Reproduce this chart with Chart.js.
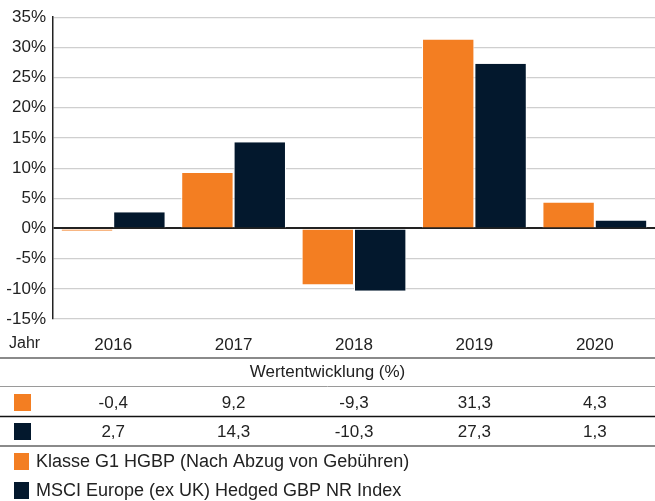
<!DOCTYPE html>
<html>
<head>
<meta charset="utf-8">
<script src="https://cdn.jsdelivr.net/npm/chart.js@4/dist/chart.umd.min.js"></script>
<style>
  html, body { margin: 0; padding: 0; background: #fff; }
  #wrap { width: 655px; height: 501px; }
</style>
</head>
<body>
<div id="wrap"><canvas id="perfChart" width="655" height="501"></canvas></div>
<script>
const years = ["2016", "2017", "2018", "2019", "2020"];
const fundValues = [-0.4, 9.2, -9.3, 31.3, 4.3];
const indexValues = [2.7, 14.3, -10.3, 27.3, 1.3];
const fundLabel = "Klasse G1 HGBP (Nach Abzug von Gebühren)";
const indexLabel = "MSCI Europe (ex UK) Hedged GBP NR Index";
const yTicks = [-15, -10, -5, 0, 5, 10, 15, 20, 25, 30, 35];

const orange = "#f37e22";
const navy = "#03182d";
const font = "'Liberation Sans', Arial, Helvetica, sans-serif";
const textColor = "#222";

function fmt(v) {
  return v.toFixed(1).replace(".", ",");
}

// table + legend under the chart, columns follow the x scale
const tablePlugin = {
  id: "tablePlugin",
  afterDraw(chart) {
    const ctx = chart.ctx;
    const x = chart.scales.x;
    const w = chart.width;

    ctx.save();
    ctx.fillStyle = textColor;
    ctx.textBaseline = "middle";

    ctx.font = "16px " + font;
    ctx.textAlign = "left";
    ctx.fillText("Jahr", 9, 344);

    function hline(y, color, width) {
      ctx.strokeStyle = color;
      ctx.lineWidth = width;
      ctx.beginPath();
      ctx.moveTo(0, y);
      ctx.lineTo(w, y);
      ctx.stroke();
    }

    hline(358, "#8a8a8a", 2);
    ctx.font = "17px " + font;
    ctx.textAlign = "center";
    ctx.fillStyle = textColor;
    ctx.fillText("Wertentwicklung (%)", w / 2, 372);
    hline(386.5, "#9a9a9a", 1);

    const rows = [
      { color: orange, values: fundValues, y: 402 },
      { color: navy, values: indexValues, y: 431 }
    ];
    rows.forEach(row => {
      ctx.fillStyle = row.color;
      ctx.fillRect(14, row.y - 8, 17, 17);
      ctx.fillStyle = textColor;
      ctx.font = "17px " + font;
      ctx.textAlign = "center";
      row.values.forEach((v, i) => {
        ctx.fillText(fmt(v), x.getPixelForValue(i), row.y + 1);
      });
    });
    hline(416.5, "#111", 1.5);
    hline(446, "#8a8a8a", 2);

    const legend = [
      { color: orange, text: fundLabel, y: 461 },
      { color: navy, text: indexLabel, y: 490 }
    ];
    legend.forEach(item => {
      ctx.fillStyle = item.color;
      ctx.fillRect(14, item.y - 8, 15, 17);
      ctx.fillStyle = textColor;
      ctx.font = "18px " + font;
      ctx.textAlign = "left";
      ctx.fillText(item.text, 36, item.y + 1);
    });

    ctx.restore();
  }
};

new Chart(document.getElementById("perfChart"), {
  type: "bar",
  data: {
    labels: years,
    datasets: [
      {
        label: fundLabel,
        data: fundValues,
        backgroundColor: orange,
        borderColor: "#fff",
        borderWidth: { left: 1, right: 1, top: 0, bottom: 0 },
        categoryPercentage: 0.87,
        barPercentage: 1
      },
      {
        label: indexLabel,
        data: indexValues,
        backgroundColor: navy,
        borderColor: "#fff",
        borderWidth: { left: 1, right: 1, top: 0, bottom: 0 },
        categoryPercentage: 0.87,
        barPercentage: 1
      }
    ]
  },
  options: {
    responsive: false,
    animation: false,
    layout: {
      padding: { top: 15, left: 0, right: 0, bottom: 0 }
    },
    plugins: {
      legend: { display: false },
      tooltip: { enabled: false }
    },
    scales: {
      x: {
        afterFit(scale) { scale.height = 182; },
        grid: { display: false, drawTicks: false },
        border: { display: false },
        ticks: {
          color: textColor,
          font: { size: 17, family: font },
          padding: 16
        }
      },
      y: {
        min: -15,
        max: 35,
        afterFit(scale) { scale.width = 53; },
        afterBuildTicks(scale) {
          scale.ticks = yTicks.map(v => ({ value: v }));
        },
        grid: {
          drawTicks: false,
          color: c => c.tick && c.tick.value === 0 ? "#222" : "#cfcfcf",
          lineWidth: c => c.tick && c.tick.value === 0 ? 2 : 1.2
        },
        border: { color: "#222", width: 1.5 },
        ticks: {
          color: textColor,
          font: { size: 17, family: font },
          padding: 7,
          callback: v => v + "%"
        }
      }
    }
  },
  plugins: [tablePlugin]
});
</script>
</body>
</html>
